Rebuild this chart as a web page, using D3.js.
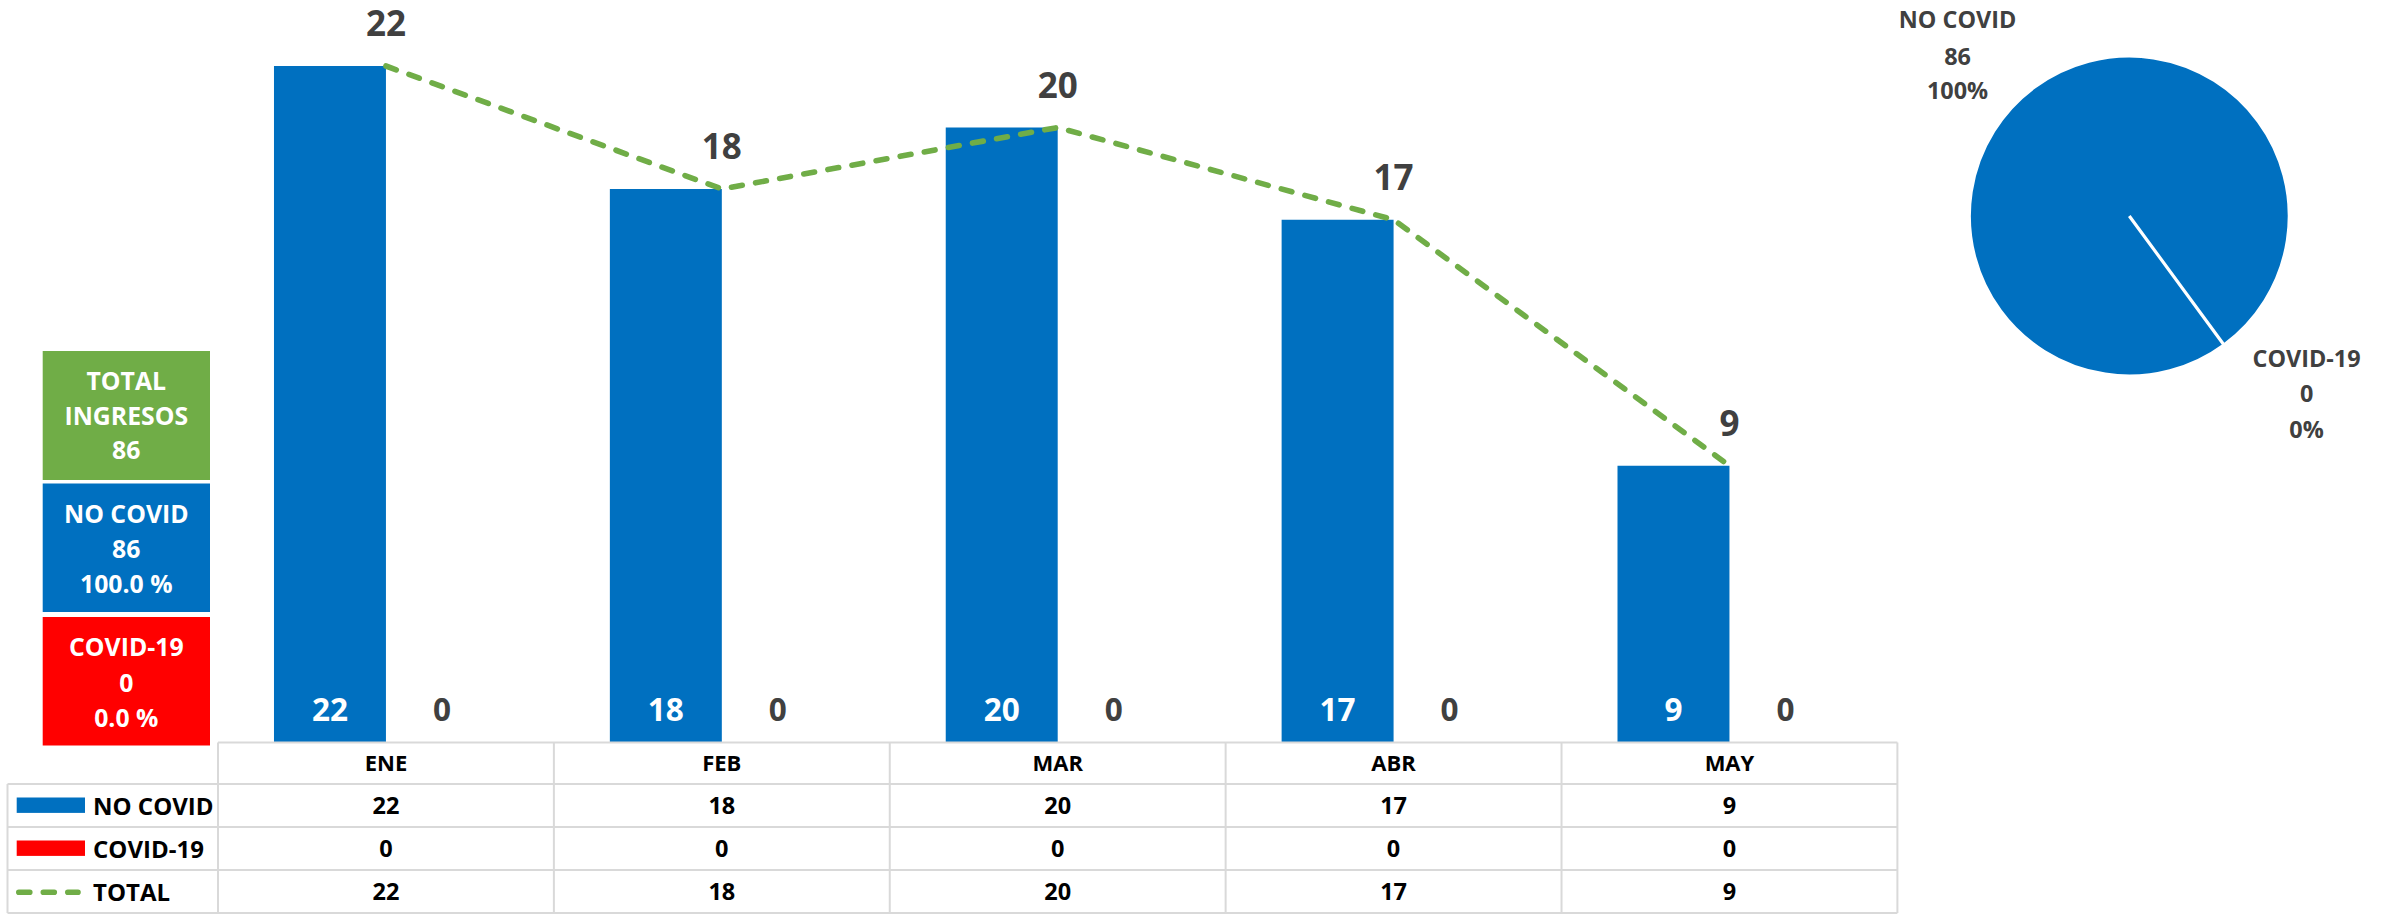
<!DOCTYPE html>
<html>
<head>
<meta charset="utf-8">
<script src="https://cdn.jsdelivr.net/npm/d3@7"></script>
<style>
  html, body { margin: 0; padding: 0; background: #fff; }
  svg { display: block; font-family: "Open Sans", Lato, sans-serif; font-weight: 700; }
</style>
</head>
<body>
<svg id="chart" width="2394" height="914"></svg>
<script>
// ---- data ----
const months = ["ENE", "FEB", "MAR", "ABR", "MAY"];
const seriesNames = ["NO COVID", "COVID-19"];
const noCovid = [22, 18, 20, 17, 9];
const covid19 = [0, 0, 0, 0, 0];
const total = [22, 18, 20, 17, 9];
const tableRowLabels = ["NO COVID", "COVID-19", "TOTAL"];
const pieNames = ["NO COVID", "COVID-19"];
const pieValues = [86, 0];
const yTicks = [0, 4, 8, 12, 16, 20, 24];

// ---- style ----
const BLUE = "#0070C0", RED = "#FF0000", GREEN = "#70AD47", GRAY_TXT = "#404040", GRID = "#D9D9D9";

const svg = d3.select("#chart");

// scales
const x = d3.scaleBand().domain(months).range([218, 1897.4]).paddingInner(0).paddingOuter(0);
const xs = d3.scaleBand().domain(seriesNames).range([0, x.bandwidth()]).paddingInner(0).paddingOuter(0.5);
const y = d3.scaleLinear().domain([0, 24]).range([742.5, 4.5]);

const rows = months.map((m, i) => ({ m, vals: [noCovid[i], covid19[i]], total: total[i] }));

// bars
const g = svg.append("g");
const groups = g.selectAll("g.grp").data(rows).join("g")
  .attr("transform", d => `translate(${x(d.m)},0)`);
groups.selectAll("rect").data(d => d.vals.map((v, k) => ({ v, s: seriesNames[k] }))).join("rect")
  .attr("x", d => xs(d.s))
  .attr("width", xs.bandwidth())
  .attr("y", d => y(d.v))
  .attr("height", d => y(0) - y(d.v))
  .attr("fill", d => d.s === "NO COVID" ? BLUE : RED);
groups.selectAll("text.in").data(d => d.vals.map((v, k) => ({ v, s: seriesNames[k] }))).join("text")
  .attr("class", "in")
  .attr("x", d => xs(d.s) + xs.bandwidth() / 2)
  .attr("y", y(0) - 22)
  .attr("text-anchor", "middle")
  .attr("font-size", 31.5)
  .attr("fill", d => d.s === "NO COVID" ? "#fff" : GRAY_TXT)
  .text(d => d.v);

// total line
const line = d3.line().x(d => x(d.m) + x.bandwidth() / 2).y(d => y(d.total));
svg.append("path").datum(rows)
  .attr("d", line)
  .attr("fill", "none")
  .attr("stroke", GREEN)
  .attr("stroke-width", 5.6)
  .attr("stroke-linecap", "round")
  .attr("stroke-dasharray", "11,13.5");
svg.selectAll("text.tot").data(rows).join("text")
  .attr("class", "tot")
  .attr("x", d => x(d.m) + x.bandwidth() / 2)
  .attr("y", d => y(d.total) - 30)
  .attr("text-anchor", "middle")
  .attr("font-size", 35)
  .attr("fill", GRAY_TXT)
  .text(d => d.total);

// ---- data table ----
const tbl = svg.append("g");
const rowY = [742.5, 784, 827, 870, 913];
const left = 7.5, right = x.range()[1];
const tl = (x1, y1, x2, y2) => tbl.append("line").attr("x1", x1).attr("y1", y1).attr("x2", x2).attr("y2", y2)
  .attr("stroke", GRID).attr("stroke-width", 2);
tl(x.range()[0], rowY[0], right, rowY[0]);
for (let r = 1; r < rowY.length; r++) tl(left, rowY[r], right, rowY[r]);
tl(left, rowY[1], left, rowY[4]);
months.forEach(m => tl(x(m), rowY[0], x(m), rowY[4]));
tl(right, rowY[0], right, rowY[4]);

// header
tbl.selectAll("text.hdr").data(months).join("text")
  .attr("class", "hdr")
  .attr("x", d => x(d) + x.bandwidth() / 2)
  .attr("y", (rowY[0] + rowY[1]) / 2 + 8)
  .attr("text-anchor", "middle").attr("font-size", 22).attr("fill", "#000")
  .text(d => d);
const tableSeries = [noCovid, covid19, total];
tableSeries.forEach((arr, r) => {
  tbl.selectAll("text.r" + r).data(arr).join("text")
    .attr("class", "r" + r)
    .attr("x", (d, i) => x(months[i]) + x.bandwidth() / 2)
    .attr("y", (rowY[r + 1] + rowY[r + 2]) / 2 + 8.5)
    .attr("text-anchor", "middle").attr("font-size", 23.5).attr("fill", "#000")
    .text(d => d);
  const cy = (rowY[r + 1] + rowY[r + 2]) / 2;
  if (r < 2) {
    tbl.append("rect").attr("x", 16.7).attr("y", cy - 8).attr("width", 68.3).attr("height", 15.4)
      .attr("fill", r === 0 ? BLUE : RED);
  } else {
    tbl.append("line").attr("x1", 18.8).attr("x2", 78).attr("y1", cy + 0.8).attr("y2", cy + 0.8)
      .attr("stroke", GREEN).attr("stroke-width", 5.6).attr("stroke-linecap", "round")
      .attr("stroke-dasharray", "11,13.5");
  }
  tbl.append("text").attr("x", 93).attr("y", cy + 9).attr("font-size", 24).attr("fill", "#000")
    .text(tableRowLabels[r]);
});

// ---- summary boxes ----
const sumTotal = d3.sum(total);
const sumNo = d3.sum(noCovid);
const sumCov = d3.sum(covid19);
const fmtPct = v => d3.format(".1f")(v) + " %";
const boxes = [
  { fill: GREEN, y0: 351, y1: 480, lines: ["TOTAL", "INGRESOS", String(sumTotal)], base: [390, 424.5, 459] },
  { fill: BLUE, y0: 483.5, y1: 612, lines: ["NO COVID", String(sumNo), fmtPct(100 * sumNo / sumTotal)], base: [523, 558, 593] },
  { fill: RED, y0: 617, y1: 745.5, lines: ["COVID-19", String(sumCov), fmtPct(100 * sumCov / sumTotal)], base: [656, 691.5, 727] }
];
const bx = svg.selectAll("g.box").data(boxes).join("g").attr("class", "box");
bx.append("rect").attr("x", 42.7).attr("width", 167.3)
  .attr("y", d => d.y0).attr("height", d => d.y1 - d.y0).attr("fill", d => d.fill);
bx.each(function (d) {
  d3.select(this).selectAll("text").data(d.lines).join("text")
    .attr("x", 126.3).attr("y", (t, i) => d.base[i])
    .attr("text-anchor", "middle").attr("font-size", 24.8).attr("fill", "#fff")
    .text(t => t);
});

// ---- pie ----
const pieCx = 2129.3, pieCy = 216, pieR = 160;
const startA = 143.7 * Math.PI / 180;
const pie = d3.pie().sort(null).startAngle(startA).endAngle(startA + 2 * Math.PI);
const arcs = pie(pieValues);
const arc = d3.arc().innerRadius(0).outerRadius(pieR);
const pg = svg.append("g").attr("transform", `translate(${pieCx},${pieCy})`);
pg.selectAll("path").data(arcs).join("path")
  .attr("d", arc)
  .attr("fill", (d, i) => i === 0 ? BLUE : RED)
  .attr("stroke", "#fff").attr("stroke-width", 3.2);

const pieTotal = d3.sum(pieValues);
const pieLabelPos = [
  { x: 1957.6, base: [28.3, 64.5, 99.3] },
  { x: 2306.6, base: [366.7, 402.3, 437.7] }
];
pieNames.forEach((n, i) => {
  const lines = [n, String(pieValues[i]), Math.round(100 * pieValues[i] / pieTotal) + "%"];
  svg.append("g").selectAll("text").data(lines).join("text")
    .attr("x", pieLabelPos[i].x).attr("y", (t, k) => pieLabelPos[i].base[k])
    .attr("text-anchor", "middle").attr("font-size", 23.4).attr("fill", GRAY_TXT)
    .text(t => t);
});
</script>
</body>
</html>
